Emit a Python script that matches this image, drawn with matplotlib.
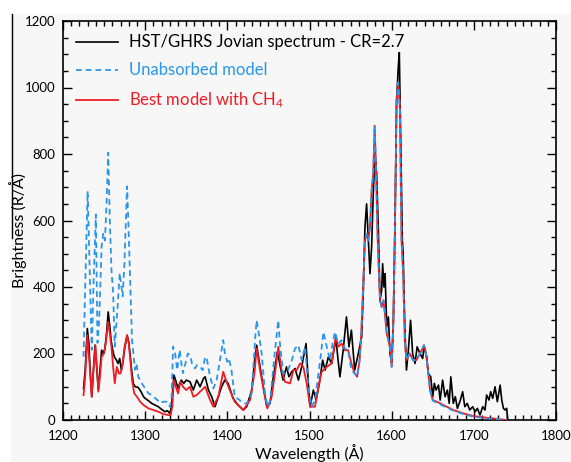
import matplotlib
matplotlib.use("Agg")
import matplotlib.pyplot as plt
from matplotlib.patches import Rectangle
from matplotlib.lines import Line2D
from matplotlib.ticker import MultipleLocator

# Observed HST/GHRS spectrum (black)
obs_wl = [1225, 1227, 1229.6, 1231.5, 1233, 1235, 1237, 1239, 1241, 1243, 1245, 1247, 1249, 1251,
          1253, 1255, 1257, 1258.5, 1260.5, 1262.5, 1265, 1267, 1269, 1271, 1273, 1275, 1278, 1280,
          1281.5, 1283.5, 1285.5, 1288, 1291.5, 1295, 1298, 1300, 1304, 1308, 1312, 1316, 1320, 1324,
          1327, 1330, 1332, 1335, 1337, 1340, 1342, 1344, 1347, 1350, 1354.6, 1358.6, 1362.7, 1366.8,
          1371, 1373, 1377, 1381, 1385, 1389, 1393, 1397, 1401, 1403, 1407, 1413, 1419.5, 1423.5,
          1429.7, 1433.7, 1435.7, 1439.8, 1443.8, 1448, 1452, 1456, 1461, 1464.5, 1467.8, 1472, 1475,
          1478.3, 1482.4, 1486.5, 1490.5, 1495.8, 1498.6, 1500.7, 1504.7, 1508, 1512, 1516, 1519, 1523,
          1527, 1532, 1534, 1537, 1541, 1545, 1548, 1551, 1555, 1559.4, 1563.5, 1565.5, 1567.5, 1569.5,
          1571.6, 1573.6, 1575.6, 1577.6, 1579.7, 1581.7, 1583.7, 1585.8, 1587.8, 1589, 1590.6, 1592,
          1594, 1596, 1598, 1600, 1602, 1604, 1606, 1608, 1609.3, 1611, 1613, 1614, 1616, 1618, 1620,
          1623, 1625.5, 1628.4, 1631, 1634.5, 1637.7, 1639.4, 1642.6, 1644.6, 1647.5, 1650, 1652, 1654,
          1657, 1659, 1662, 1665, 1667.8, 1670, 1672, 1675, 1677.5, 1680, 1683, 1686.4, 1689, 1692,
          1695, 1698.6, 1701.5, 1704.3, 1707.5, 1710.8, 1713.6, 1715.6, 1718.5, 1720.5, 1723, 1725.8,
          1728.6, 1732, 1734, 1736, 1738, 1740, 1741]
obs_val = [95, 150, 275, 230, 150, 70, 150, 225, 160, 90, 150, 210, 200, 215,
           260, 325, 280, 240, 210, 190, 180, 170, 185, 150, 175, 215, 255, 235,
           200, 150, 110, 100, 98, 85, 70, 65, 58, 50, 45, 40, 32, 25,
           28, 20, 40, 135, 120, 95, 110, 120, 110, 120, 115, 90, 120, 100,
           125, 130, 90, 70, 40, 70, 100, 120, 110, 95, 65, 45, 30, 40,
           90, 190, 225, 160, 100, 40, 50, 130, 205, 160, 120, 160, 130,
           145, 155, 120, 160, 230, 110, 40, 90, 60, 110, 180, 150, 190,
           170, 245, 200, 130, 210, 310, 220, 270, 150, 200, 250, 390, 580, 650,
           540, 440, 520, 680, 800, 740, 580, 360, 390, 470, 400, 440,
           280, 310, 200, 170, 290, 580, 960, 1060, 1105, 840, 540, 500, 280, 150, 200,
           300, 200, 170, 220, 200, 185, 220, 190, 140, 130, 70, 110, 90,
           105, 60, 120, 70, 90, 50, 130, 50, 70, 35, 55, 85, 40, 50,
           30, 40, 25, 35, 15, 40, 30, 75, 60, 85, 65, 100,
           55, 105, 60, 35, 30, 35, 5]

# Unabsorbed model (blue dashed)
unabs_wl = [1225, 1227, 1230, 1232.5, 1235, 1237, 1240, 1242, 1244, 1247, 1249, 1251, 1253, 1255,
            1257, 1259, 1261, 1263, 1266.5, 1269, 1272.6, 1274.6, 1276.5, 1278, 1280, 1281.5, 1284,
            1287.6, 1289.5, 1291.6, 1295.7, 1300, 1304, 1308, 1312, 1315, 1318, 1322, 1326, 1330, 1332,
            1334, 1336.5, 1339, 1342, 1344, 1346, 1349, 1352, 1354.6, 1357, 1360.7, 1363, 1366.8, 1370,
            1373, 1375, 1379, 1383, 1387, 1391, 1395, 1397, 1400, 1402, 1405, 1409, 1415, 1419, 1423.6,
            1429.7, 1433.7, 1435.7, 1437.7, 1441.8, 1445.9, 1449, 1452, 1458, 1462, 1464, 1468, 1472,
            1478, 1482.4, 1486.5, 1490.5, 1494.6, 1498.6, 1502.7, 1506.7, 1510.8, 1514, 1516.9, 1521,
            1525, 1528, 1531, 1535, 1539, 1543, 1547, 1551, 1555, 1558, 1561, 1563, 1565.5, 1567.5,
            1569.5, 1571.6, 1573.6, 1575.6, 1577.6, 1579.3, 1580.9, 1583, 1585.8, 1587.8, 1590, 1591.8,
            1594, 1598, 1600, 1602, 1604, 1606, 1608, 1610, 1612, 1614, 1616, 1618, 1622, 1626, 1630,
            1634.5, 1639.4, 1641.8, 1644.6, 1646.7, 1650, 1655, 1663, 1675, 1687, 1699, 1715, 1730, 1740]
unabs_val = [190, 400, 688, 450, 211, 400, 618, 232, 300, 522, 560, 540, 650, 804,
             600, 450, 383, 221, 342, 442, 372, 462, 600, 703, 560, 442, 241,
             151, 170, 130, 111, 95, 80, 75, 66, 60, 51, 55, 55, 40, 60,
             221, 200, 150, 211, 170, 141, 170, 200, 195, 170, 155, 165, 160, 150,
             190, 185, 130, 95, 120, 180, 240, 200, 175, 185, 150, 70, 60, 50, 50,
             80, 240, 300, 270, 200, 80, 40, 55, 210, 300, 230, 140, 140,
             175, 215, 225, 180, 220, 100, 40, 60, 140, 200, 265, 220,
             180, 230, 265, 230, 240, 215, 210, 150, 140, 130, 180, 260, 420, 540,
             560, 540, 580, 690, 740, 885, 760, 540, 360, 340, 360, 320,
             260, 220, 160, 290, 580, 960, 1015, 940, 540, 440, 240, 180, 200, 180, 180,
             200, 225, 200, 140, 90, 58, 52, 42, 28, 18, 10, 5, 2, 0]

# Best model with CH4 absorption (red)
ch4_wl = [1225, 1227, 1229.6, 1232, 1235, 1237, 1239.5, 1241.5, 1243, 1245, 1247, 1250, 1252, 1255,
          1257, 1259, 1261, 1263, 1265.5, 1268, 1270, 1272, 1275, 1278, 1280, 1282, 1284, 1286.7,
          1290, 1294, 1298, 1304, 1310, 1316, 1322, 1328, 1331, 1333, 1335, 1338, 1340, 1343, 1346,
          1350, 1354.6, 1358.6, 1362.7, 1366.8, 1373, 1379, 1383, 1389, 1395, 1399, 1403, 1409,
          1419.5, 1427.7, 1433, 1435.7, 1439.8, 1444.6, 1448.7, 1454, 1458, 1462, 1466, 1470, 1476.3,
          1480.4, 1484.4, 1488.5, 1492.5, 1496.6, 1500.7, 1506.7, 1510.8, 1514.8, 1521, 1527, 1532,
          1535, 1539, 1543, 1547, 1551, 1555, 1558, 1561, 1563, 1565.5, 1567.5, 1569.5, 1571.6,
          1573.6, 1575.6, 1577.6, 1579.3, 1580.9, 1583, 1585.8, 1587.8, 1590, 1591.8, 1594, 1598,
          1600, 1602, 1604, 1606, 1608, 1610, 1612, 1614, 1616, 1618, 1622, 1626, 1630, 1634.5,
          1639.4, 1641.8, 1644.6, 1646.7, 1650, 1655, 1663, 1675, 1687, 1699, 1715, 1730, 1740]
ch4_val = [75, 130, 255, 180, 70, 150, 225, 150, 85, 130, 190, 200, 230, 295,
           260, 220, 160, 110, 160, 140, 140, 160, 220, 255, 230, 180, 120, 80,
           70, 55, 45, 35, 30, 25, 18, 15, 15, 40, 120, 95, 80, 115, 100,
           90, 100, 70, 75, 85, 100, 60, 40, 70, 145, 115, 90, 55,
           30, 60, 140, 215, 150, 85, 35, 70, 140, 220, 150, 115, 110,
           150, 150, 170, 160, 110, 40, 40, 100, 145, 160, 170, 250,
           220, 230, 210, 210, 170, 140, 130, 180, 260, 420, 540, 560, 540,
           580, 690, 740, 885, 760, 540, 360, 340, 360, 320, 260, 220,
           160, 290, 580, 960, 1015, 940, 540, 440, 240, 180, 200, 180, 180, 200,
           225, 200, 140, 90, 60, 55, 45, 30, 20, 12, 7, 3, 0]

plt.rcParams['font.family'] = ['Lato', 'DejaVu Sans']
plt.rcParams['mathtext.fontset'] = 'custom'
plt.rcParams['mathtext.rm'] = 'Lato'
plt.rcParams['mathtext.it'] = 'Lato'

bg = '#f7f7f7'
fig = plt.figure(figsize=(5.71, 4.62), dpi=100, facecolor='white')
fig.patches.append(Rectangle((11 / 571, 0), 1 - 11 / 571, 1 - 14 / 462,
                             transform=fig.transFigure, facecolor=bg, edgecolor='none', zorder=-10))
fig.lines.append(Line2D([12 / 571, 12 / 571], [1 - 14 / 462, 1 - 238 / 462],
                        transform=fig.transFigure, color='black', linewidth=1.0))

ax = fig.add_axes([63 / 571, 1 - 420 / 462, (556 - 63) / 571, (420 - 21) / 462])
ax.set_facecolor(bg)

ax.plot(obs_wl, obs_val, color='black', linewidth=1.2, label='HST/GHRS Jovian spectrum - CR=2.7', zorder=2)
ax.plot(ch4_wl, ch4_val, color='#ee1c24', linewidth=1.3, label='Best model with CH$_4$', zorder=3)
ax.plot(unabs_wl, unabs_val, color='#2b95e9', linewidth=1.3, linestyle=(0, (3.2, 2.2)),
        label='Unabsorbed model', zorder=4)

ax.set_xlim(1200, 1800)
ax.set_ylim(0, 1200)
ax.xaxis.set_major_locator(MultipleLocator(100))
ax.xaxis.set_minor_locator(MultipleLocator(10))
ax.yaxis.set_major_locator(MultipleLocator(200))
ax.yaxis.set_minor_locator(MultipleLocator(50))
ax.tick_params(which='both', direction='in', top=True, right=True, labelsize=9.5, width=1.0)
ax.tick_params(axis='x', which='both', pad=7.5)
ax.tick_params(axis='y', which='both', pad=5.5)
ax.tick_params(which='major', length=6.5)
ax.tick_params(which='minor', length=3.5)
for s in ax.spines.values():
    s.set_linewidth(1.2)

ax.set_xlabel('Wavelength (Å)', fontsize=11.5, labelpad=1.5)
fig.text(18 / 571, 1 - 231 / 462, 'Brightness (R/Å)', rotation=90, fontsize=11.5,
         ha='center', va='center')

# legend order as in the picture
h, l = ax.get_legend_handles_labels()
order = [0, 2, 1]
leg = ax.legend([h[i] for i in order], [l[i] for i in order], loc='upper left', frameon=False,
                fontsize=12, handlelength=2.5, handletextpad=0.65, labelspacing=0.72,
                borderaxespad=0.4, bbox_to_anchor=(0.0, 1.0))
for txt, c in zip(leg.get_texts(), ['black', '#2b95e9', '#ee1c24']):
    txt.set_color(c)

fig.savefig('out.png', dpi=100, facecolor='white')
